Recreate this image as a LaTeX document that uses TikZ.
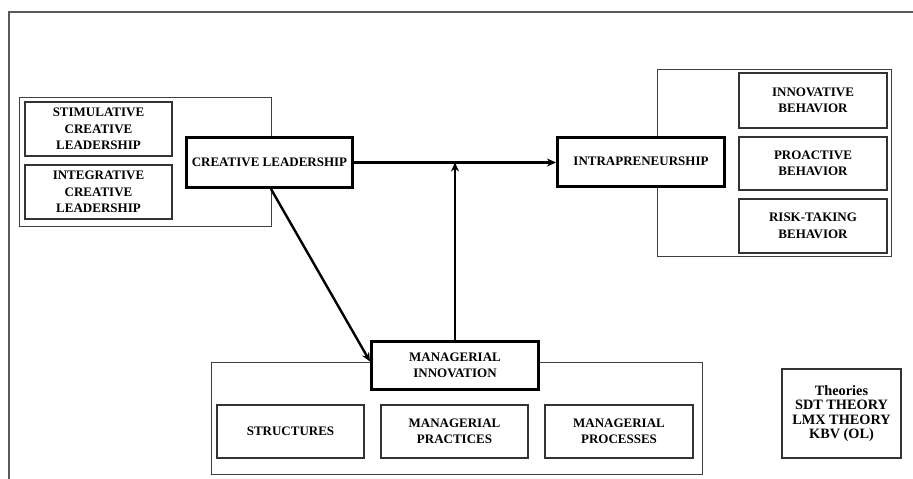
\documentclass[tikz,border=0pt]{standalone}
\usepackage{fontspec}
\setmainfont{Liberation Serif}
\usetikzlibrary{arrows.meta}
\begin{document}
\begin{tikzpicture}[x=1pt,y=-1pt,
  thinbox/.style={draw=black!75,line width=1pt,inner sep=0pt},
  subbox/.style={draw=black!80,line width=1.1pt,align=center,inner sep=0pt,
    font=\bfseries\fontsize{13}{16.5}\selectfont},
  mainbox/.style={draw=black,line width=3pt,align=center,inner sep=0pt,fill=white,
    font=\bfseries\fontsize{13}{16.5}\selectfont},
  arr/.style={line width=2.4pt,-{Stealth[length=9pt,width=8pt]}}]
\useasboundingbox (0,0) rectangle (913,479);
% outer frame (open at right and bottom)
\draw[draw=black!65,line width=1.4pt] (9,479) -- (9,12) -- (913,12);
% group boxes
\node[thinbox,minimum width=252pt,minimum height=129pt] (lg) at (145,161.5) {};
\node[thinbox,minimum width=234pt,minimum height=187pt] (rg) at (774,162.5) {};
\node[thinbox,minimum width=491pt,minimum height=112pt] (bg) at (456.5,418) {};
% left sub boxes
\node[subbox,minimum width=147pt,minimum height=54pt] (stim) at (98.5,129) {STIMULATIVE\\CREATIVE\\LEADERSHIP};
\node[subbox,minimum width=147pt,minimum height=54pt] (integ) at (98.5,192) {INTEGRATIVE\\CREATIVE\\LEADERSHIP};
% right sub boxes
\node[subbox,minimum width=148pt,minimum height=55pt] (innov) at (813,100.5) {INNOVATIVE\\BEHAVIOR};
\node[subbox,minimum width=148pt,minimum height=53pt] (proac) at (813,163.5) {PROACTIVE\\BEHAVIOR};
\node[subbox,minimum width=148pt,minimum height=54pt] (risk) at (813,226) {RISK-TAKING\\BEHAVIOR};
% bottom sub boxes
\node[subbox,minimum width=147pt,minimum height=53pt] (struct) at (290.5,431.5) {STRUCTURES};
\node[subbox,minimum width=147pt,minimum height=53pt] (pract) at (454.5,431.5) {MANAGERIAL\\PRACTICES};
\node[subbox,minimum width=148pt,minimum height=53pt] (proc) at (619,431.5) {MANAGERIAL\\PROCESSES};
% main boxes
\node[mainbox,minimum width=166pt,minimum height=50pt] (cl) at (269.5,162.5) {CREATIVE LEADERSHIP};
\node[mainbox,minimum width=167pt,minimum height=49pt] (ip) at (641,161.5) {INTRAPRENEURSHIP};
\node[mainbox,minimum width=167pt,minimum height=48pt] (mi) at (455,365.5) {MANAGERIAL\\INNOVATION};
% theories
\node[subbox,minimum width=119pt,minimum height=89pt,font=\bfseries\fontsize{14.3}{14.5}\selectfont] (th) at (841.5,413.5) {Theories\\SDT THEORY\\LMX THEORY\\KBV (OL)};
% connectors
\draw[arr] (cl.east) -- (cl.east -| ip.west);
\coordinate (join) at (mi.north |- cl.east);
\draw[arr] (mi.north) -- (join);
\draw[arr] ([xshift=1.5pt]cl.south) -- ([yshift=4pt]mi.west);
\end{tikzpicture}
\end{document}
